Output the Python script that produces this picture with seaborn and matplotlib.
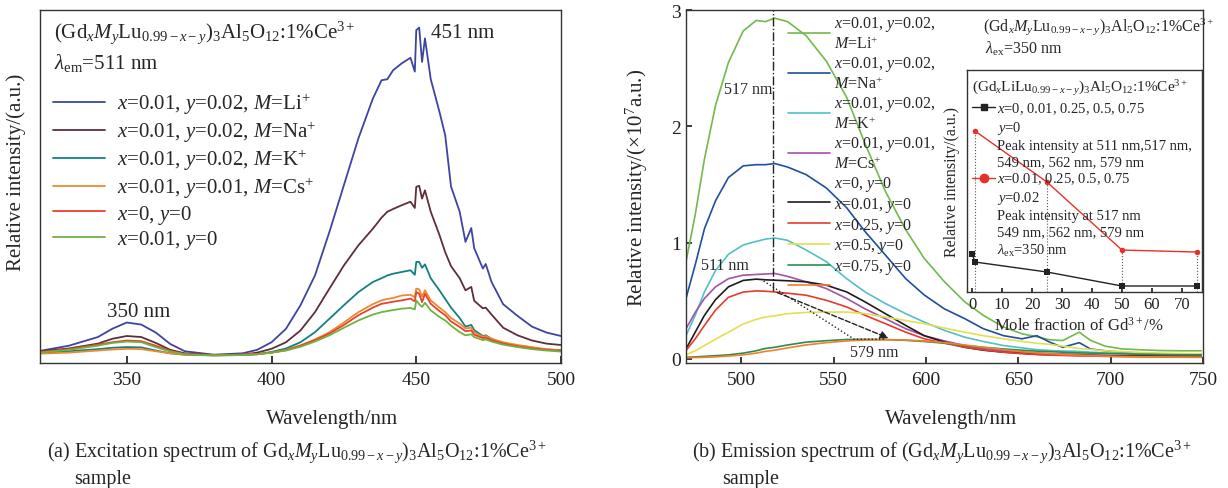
import matplotlib
matplotlib.use("Agg")
import matplotlib.pyplot as plt
from matplotlib.lines import Line2D
import seaborn as sns

# ---- (a) excitation spectra, lambda_em = 511 nm --------------------------------
ex_nm = [320, 330, 340, 345, 350, 355, 360, 365, 370, 380, 390, 395, 400, 405,
         410, 415, 420, 425, 430, 435, 438, 440, 442, 445, 448, 449.5, 450, 451,
         452, 453, 455, 458, 460, 462, 465, 467, 469, 470, 473, 474, 476, 480,
         485, 490, 495, 500]
ex_li = [0.015, 0.03, 0.055, 0.079, 0.097, 0.091, 0.068, 0.035, 0.014, 0.004, 0.008,
         0.018, 0.04, 0.079, 0.147, 0.233, 0.359, 0.494, 0.629, 0.744, 0.797, 0.80,
         0.826, 0.846, 0.862, 0.822, 0.942, 0.949, 0.85, 0.918, 0.80, 0.706, 0.638,
         0.49, 0.417, 0.33, 0.37, 0.312, 0.253, 0.266, 0.214, 0.15, 0.116, 0.085,
         0.068, 0.058]
ex_na = [0.014, 0.022, 0.036, 0.05, 0.058, 0.055, 0.038, 0.018, 0.008, 0.003, 0.004,
         0.01, 0.021, 0.04, 0.074, 0.127, 0.195, 0.262, 0.32, 0.368, 0.40, 0.417,
         0.425, 0.436, 0.446, 0.428, 0.489, 0.492, 0.455, 0.479, 0.417, 0.35, 0.30,
         0.26, 0.225, 0.19, 0.20, 0.16, 0.138, 0.14, 0.12, 0.082, 0.06, 0.045,
         0.036, 0.032]
ex_k = [0.01, 0.014, 0.02, 0.024, 0.026, 0.025, 0.016, 0.008, 0.004, 0.002, 0.003,
        0.005, 0.012, 0.022, 0.04, 0.069, 0.108, 0.147, 0.185, 0.214, 0.225, 0.233,
        0.238, 0.243, 0.248, 0.235, 0.272, 0.272, 0.255, 0.265, 0.225, 0.19, 0.165,
        0.14, 0.11, 0.085, 0.09, 0.075, 0.058, 0.06, 0.05, 0.036, 0.028, 0.022,
        0.019, 0.017]
ex_cs = [0.007, 0.01, 0.016, 0.019, 0.021, 0.02, 0.014, 0.008, 0.004, 0.002, 0.004,
         0.006, 0.01, 0.018, 0.031, 0.048, 0.069, 0.097, 0.127, 0.15, 0.161, 0.165,
         0.168, 0.175, 0.177, 0.17, 0.195, 0.193, 0.172, 0.19, 0.161, 0.14, 0.127,
         0.11, 0.094, 0.08, 0.082, 0.069, 0.056, 0.058, 0.05, 0.04, 0.032, 0.026,
         0.02, 0.016]
ex_x0 = [0.012, 0.02, 0.033, 0.04, 0.045, 0.043, 0.03, 0.015, 0.006, 0.003, 0.004,
         0.006, 0.01, 0.017, 0.03, 0.046, 0.065, 0.09, 0.118, 0.14, 0.151, 0.154,
         0.157, 0.161, 0.166, 0.158, 0.185, 0.18, 0.156, 0.18, 0.151, 0.13, 0.118,
         0.1, 0.084, 0.072, 0.074, 0.062, 0.052, 0.053, 0.046, 0.036, 0.028, 0.022,
         0.018, 0.015]
ex_x001 = [0.01, 0.018, 0.03, 0.038, 0.042, 0.04, 0.026, 0.013, 0.005, 0.002, 0.003,
           0.005, 0.01, 0.016, 0.027, 0.042, 0.06, 0.082, 0.103, 0.12, 0.127, 0.13,
           0.133, 0.137, 0.139, 0.135, 0.161, 0.15, 0.142, 0.154, 0.132, 0.113, 0.103,
           0.088, 0.069, 0.06, 0.063, 0.055, 0.046, 0.048, 0.042, 0.033, 0.026, 0.02,
           0.016, 0.013]
ex_labels = [r"$x$=0.01, $y$=0.02, $M$=Li$^{+}$",
             r"$x$=0.01, $y$=0.02, $M$=Na$^{+}$",
             r"$x$=0.01, $y$=0.02, $M$=K$^{+}$",
             r"$x$=0.01, $y$=0.01, $M$=Cs$^{+}$",
             r"$x$=0, $y$=0",
             r"$x$=0.01, $y$=0"]
ex_colors = ["#3d45a0", "#5e2f38", "#128080", "#f0882e", "#e8412c", "#6cb340"]

# ---- (b) emission spectra, lambda_ex = 350 nm ---------------------------------
em_nm = [470, 475, 480, 486, 493, 501, 508, 513, 518, 525, 535, 546, 557, 567, 578,
         589, 599, 610, 621, 631, 642, 652, 660, 667, 674, 683, 689, 697, 706, 717,
         727, 738, 749]
em_li = [0.836, 1.24, 1.72, 2.18, 2.55, 2.82, 2.91, 2.90, 2.93, 2.90, 2.78, 2.56, 2.25,
         1.85, 1.44, 1.11, 0.865, 0.663, 0.49, 0.375, 0.274, 0.216, 0.19, 0.165, 0.158,
         0.23, 0.16, 0.11, 0.086, 0.078, 0.072, 0.07, 0.07]
em_na = [0.52, 0.81, 1.12, 1.36, 1.56, 1.66, 1.67, 1.67, 1.68, 1.65, 1.585, 1.47, 1.30,
         1.095, 0.893, 0.69, 0.55, 0.43, 0.346, 0.26, 0.20, 0.173, 0.20, 0.144, 0.10,
         0.14, 0.086, 0.07, 0.058, 0.05, 0.043, 0.043, 0.043]
em_k = [0.20, 0.375, 0.576, 0.76, 0.90, 0.98, 1.01, 1.03, 1.04, 1.02, 0.937, 0.836,
        0.69, 0.576, 0.476, 0.389, 0.317, 0.245, 0.187, 0.15, 0.115, 0.095, 0.08,
        0.072, 0.068, 0.065, 0.058, 0.052, 0.048, 0.043, 0.04, 0.037, 0.035]
em_cs = [0.26, 0.40, 0.52, 0.62, 0.69, 0.72, 0.726, 0.73, 0.735, 0.71, 0.663, 0.605,
         0.52, 0.43, 0.346, 0.26, 0.20, 0.155, 0.115, 0.09, 0.072, 0.06, 0.052, 0.047,
         0.043, 0.04, 0.035, 0.032, 0.03, 0.028, 0.025, 0.024, 0.023]
em_x001 = [0.086, 0.23, 0.375, 0.51, 0.62, 0.675, 0.686, 0.68, 0.677, 0.672, 0.663,
           0.634, 0.576, 0.49, 0.389, 0.288, 0.20, 0.144, 0.10, 0.075, 0.058, 0.048,
           0.04, 0.036, 0.033, 0.03, 0.029, 0.027, 0.026, 0.025, 0.024, 0.023, 0.023]
em_x025 = [0.072, 0.173, 0.288, 0.42, 0.53, 0.575, 0.585, 0.582, 0.576, 0.565, 0.548,
           0.504, 0.447, 0.375, 0.303, 0.23, 0.173, 0.135, 0.10, 0.078, 0.058, 0.045,
           0.038, 0.033, 0.03, 0.027, 0.025, 0.022, 0.02, 0.018, 0.016, 0.015, 0.014]
em_x05 = [0.035, 0.07, 0.115, 0.17, 0.23, 0.30, 0.34, 0.36, 0.37, 0.389, 0.40, 0.403,
          0.403, 0.39, 0.36, 0.33, 0.303, 0.265, 0.23, 0.2, 0.173, 0.15, 0.135, 0.125,
          0.11, 0.09, 0.082, 0.07, 0.063, 0.055, 0.05, 0.046, 0.043]
em_x075 = [0.014, 0.018, 0.022, 0.028, 0.035, 0.05, 0.07, 0.09, 0.10, 0.12, 0.144,
           0.157, 0.167, 0.168, 0.167, 0.16, 0.15, 0.135, 0.115, 0.10, 0.086, 0.075,
           0.067, 0.063, 0.058, 0.052, 0.05, 0.047, 0.044, 0.04, 0.038, 0.036, 0.035]
em_x0 = [0.01, 0.012, 0.014, 0.018, 0.025, 0.035, 0.05, 0.065, 0.075, 0.095, 0.12,
         0.14, 0.155, 0.162, 0.165, 0.162, 0.155, 0.14, 0.12, 0.1, 0.08, 0.062, 0.052,
         0.045, 0.038, 0.032, 0.028, 0.024, 0.021, 0.019, 0.017, 0.016, 0.015]
em_series = [em_li, em_na, em_k, em_cs, em_x001, em_x025, em_x05, em_x075, em_x0]
em_colors = ["#73b94b", "#1f4f9f", "#52c0c8", "#a153a8", "#1c1c1c", "#e83b2b",
             "#e6de52", "#2f8c4b", "#f0802e"]
em_labels = ["$x$=0.01, $y$=0.02,\n$M$=Li$^{+}$",
             "$x$=0.01, $y$=0.02,\n$M$=Na$^{+}$",
             "$x$=0.01, $y$=0.02,\n$M$=K$^{+}$",
             "$x$=0.01, $y$=0.01,\n$M$=Cs$^{+}$",
             r"$x$=0.01, $y$=0", r"$x$=0.25, $y$=0", r"$x$=0.5, $y$=0",
             r"$x$=0.75, $y$=0", ""]
label_x0 = r"$x$=0, $y$=0"

peak_nm = 517
guide_nm = [512, 561, 578]
guide_val = [0.67, 0.17, 0.17]
arrow_from = (518, 0.58)
arrow_to = (581, 0.17)

# ---- inset: peak intensity vs Gd fraction -------------------------------------
gd_black = [0, 1, 25, 50, 75]
int_black = [0.171, 0.135, 0.09, 0.027, 0.027]
gd_red = [1, 25, 50, 75]
int_red = [0.725, 0.495, 0.189, 0.18]

formula = r"(Gd$_x$$M_y$Lu$_{0.99-x-y}$)$_3$Al$_5$O$_{12}$:1%Ce$^{3+}$"

sns.set_theme(style="ticks")
plt.rcParams["font.family"] = ["Liberation Serif", "DejaVu Serif"]
plt.rcParams["mathtext.fontset"] = "custom"
plt.rcParams["mathtext.rm"] = "Liberation Serif"
plt.rcParams["mathtext.it"] = "Liberation Serif:italic"
plt.rcParams["mathtext.bf"] = "Liberation Serif:bold"
plt.rcParams["axes.edgecolor"] = "#333333"
plt.rcParams["axes.linewidth"] = 1.0

W, H = 1228, 489
fig = plt.figure(figsize=(W / 100, H / 100), dpi=100)
ax1 = fig.add_axes([40 / W, 1 - 364 / H, 521 / W, 353 / H])
ax2 = fig.add_axes([686 / W, 1 - 364 / H, 517 / W, 353 / H])

# ---- panel (a) ------------------------------------------------------------------
for ys, col, lab in zip([ex_li, ex_na, ex_k, ex_cs, ex_x0, ex_x001], ex_colors, ex_labels):
    sns.lineplot(x=ex_nm, y=ys, ax=ax1, color=col, lw=1.3, label=lab)
ax1.set_xlim(320, 500)
ax1.set_ylim(-0.02, 1.0)
ax1.set_xticks([350, 400, 450, 500])
ax1.set_yticks([])
ax1.tick_params(axis="x", direction="in", length=5, labelsize=14, pad=6, colors="#222222")
ax1.set_xlabel("Wavelength/nm", fontsize=15)
ax1.xaxis.set_label_coords(0.56, -0.13)
ax1.set_ylabel("Relative intensity/(a.u.)", fontsize=15)
ax1.yaxis.set_label_coords(-0.027, 0.544)
ax1.text(0.027, 0.94, formula, transform=ax1.transAxes, fontsize=15, va="center")
ax1.text(0.027, 0.853, r"$\lambda_{\rm em}$=511 nm", transform=ax1.transAxes,
         fontsize=15, va="center")
ax1.text(354, 0.13, "350 nm", fontsize=15, ha="center", va="center")
ax1.text(466, 0.934, "451 nm", fontsize=15, ha="center", va="center")
ax1.legend(loc="upper left", bbox_to_anchor=(0.0, 0.805), frameon=False, fontsize=15,
           handlelength=2.5, handletextpad=0.6, labelspacing=0.13, borderaxespad=0.2)

# ---- panel (b) ------------------------------------------------------------------
lines = []
for ys, col in zip(em_series, em_colors):
    sns.lineplot(x=em_nm, y=ys, ax=ax2, color=col, lw=1.2)
    lines.append(ax2.lines[-1])
ax2.plot([peak_nm, peak_nm], [0.58, 3.0], color="#222222", lw=1.0, ls="-.")
ax2.plot(guide_nm, guide_val, color="#222222", lw=1.0, ls=":")
ax2.annotate("", xy=arrow_to, xytext=arrow_from,
             arrowprops=dict(arrowstyle="-|>", ls="--", color="#222222", lw=1.0))
ax2.set_xlim(470, 750)
ax2.set_ylim(-0.035, 3.0)
ax2.set_xticks([500, 550, 600, 650, 700, 750])
ax2.set_yticks([0, 1, 2, 3])
ax2.tick_params(direction="in", length=4, labelsize=14, colors="#222222")
ax2.tick_params(axis="x", pad=6)
ax2.set_xlabel("Wavelength/nm", fontsize=15)
ax2.xaxis.set_label_coords(0.513, -0.13)
ax2.set_ylabel(r"Relative intensity/($\times$10$^7$a.u.)", fontsize=15)
ax2.yaxis.set_label_coords(-0.07, 0.5)
ax2.text(503.6, 2.32, "517 nm", fontsize=11.5, ha="center", va="center")
ax2.text(490.9, 0.81, "511 nm", fontsize=11.5, ha="center", va="center")
ax2.text(571.7, 0.063, "579 nm", fontsize=11.5, ha="center", va="center")
ax2.text(0.574, 0.955, formula, transform=ax2.transAxes, fontsize=11.5, va="center")
ax2.text(0.578, 0.892, r"$\lambda_{\rm ex}$=350 nm", transform=ax2.transAxes,
         fontsize=11.5, va="center")

blank = Line2D([], [], lw=0)
leg_handles = lines[:4] + [blank] + lines[4:]
leg_labels = em_labels[:4] + [label_x0] + em_labels[4:]
ax2.legend(leg_handles, leg_labels, loc="upper left", bbox_to_anchor=(0.185, 1.008),
           frameon=False, fontsize=11.5, handlelength=2.6, handletextpad=0.3,
           labelspacing=0.12, borderaxespad=0.0)

# ---- inset ------------------------------------------------------------------------
ax_in = fig.add_axes([967 / W, 1 - 293 / H, 235 / W, 222 / H])
ax_in.set_facecolor("white")
ax_in.vlines(gd_red, 0, int_red, colors="#555555", lw=0.8, linestyles=":")
sns.lineplot(x=gd_black, y=int_black, ax=ax_in, color="#222222", lw=1.0,
             marker="s", markersize=4, markeredgewidth=0)
sns.lineplot(x=gd_red, y=int_red, ax=ax_in, color="#e8302a", lw=1.0,
             marker="o", markersize=4, markeredgewidth=0)
ax_in.set_xlim(-1.7, 76.7)
ax_in.set_ylim(0, 1)
ax_in.set_xticks(range(0, 80, 10))
ax_in.set_yticks([])
ax_in.tick_params(axis="x", direction="in", length=3, labelsize=12, pad=3, colors="#222222")
ax_in.set_xlabel(r"Mole fraction of Gd$^{3+}$/%", fontsize=12)
ax_in.xaxis.set_label_coords(0.477, -0.105)
ax_in.set_ylabel("Relative intensity/(a.u.)", fontsize=11.5)
ax_in.yaxis.set_label_coords(-0.03, 0.5)

h_black = Line2D([], [], color="#222222", lw=1.0, marker="s", markersize=5)
h_red = Line2D([], [], color="#e8302a", lw=1.0, marker="o", markersize=6)
in_handles = [h_black, blank, blank, blank, h_red, blank, blank, blank, blank]
in_labels = [r"$x$=0, 0.01, 0.25, 0.5, 0.75", r"$y$=0",
             "Peak intensity at 511 nm,517 nm,", "549 nm, 562 nm, 579 nm",
             r"$x$=0.01, 0.25, 0.5, 0.75", r"$y$=0.02",
             "Peak intensity at 517 nm", "549 nm, 562 nm, 579 nm",
             r"$\lambda_{\rm ex}$=350 nm"]
ax_in.legend(in_handles, in_labels, loc="upper left", bbox_to_anchor=(-0.01, 1.0),
             frameon=False, fontsize=10.5, handlelength=1.6, handletextpad=0.15,
             labelspacing=0.2, borderaxespad=0.1,
             title=r"(Gd$_x$LiLu$_{0.99-x-y}$)$_3$Al$_5$O$_{12}$:1%Ce$^{3+}$",
             title_fontsize=11, alignment="left")

# ---- captions ---------------------------------------------------------------------
fig.text(47 / W, 1 - 452 / H,
         r"(a) Excitation spectrum of Gd$_x$$M_y$Lu$_{0.99-x-y}$)$_3$Al$_5$O$_{12}$:1%Ce$^{3+}$",
         fontsize=14.5, va="center")
fig.text(74 / W, 1 - 480 / H, "sample", fontsize=14.5, va="center")
fig.text(692 / W, 1 - 452 / H,
         r"(b) Emission spectrum of (Gd$_x$$M_y$Lu$_{0.99-x-y}$)$_3$Al$_5$O$_{12}$:1%Ce$^{3+}$",
         fontsize=14.5, va="center")
fig.text(722 / W, 1 - 480 / H, "sample", fontsize=14.5, va="center")

fig.savefig("out.png", dpi=100)
